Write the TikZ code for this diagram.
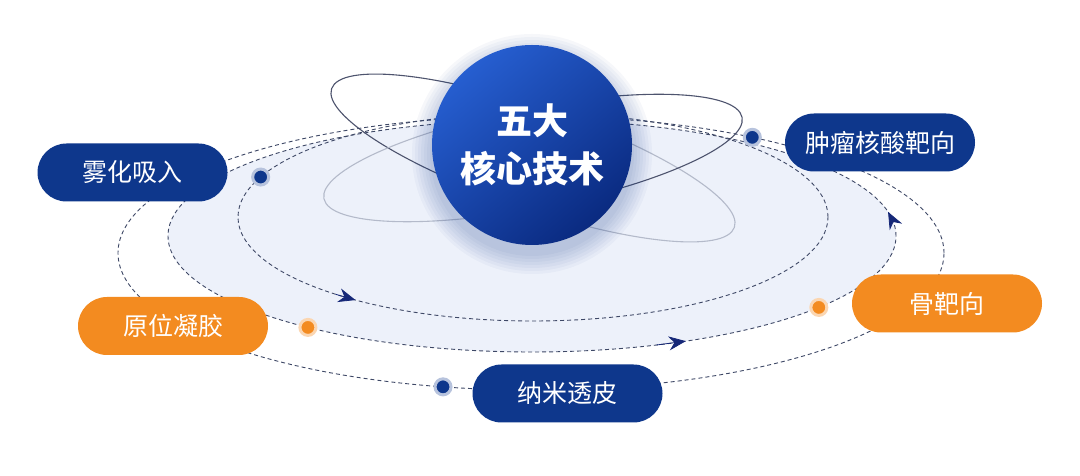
\documentclass[tikz,border=0pt]{standalone}
\usepackage{fontspec}
\newfontfamily\cjk{Noto Sans CJK SC}
\usetikzlibrary{calc,arrows.meta}
\definecolor{navy}{RGB}{14,55,140}
\definecolor{tangerine}{RGB}{243,139,32}
\definecolor{dashgray}{RGB}{62,72,102}
\definecolor{haze}{RGB}{237,241,250}
\definecolor{orbdark}{RGB}{78,84,110}
\definecolor{orblight}{RGB}{180,186,202}
\definecolor{ballhi}{RGB}{38,94,208}
\definecolor{balllo}{RGB}{10,42,128}
\definecolor{tipblue}{RGB}{22,40,120}
\tikzset{
  pill/.style={rectangle,rounded corners=29pt,minimum width=190pt,minimum height=58pt,
    inner sep=0pt,text=white,font=\cjk\fontsize{25}{30}\selectfont},
  bluepill/.style={pill,fill=navy},
  orangepill/.style={pill,fill=tangerine},
  ring/.style={dashgray,line width=0.9pt,dash pattern=on 4pt off 3pt},
  bluedot/.style={circle,fill=navy,draw=navy!30,line width=3pt,minimum size=16pt,inner sep=0pt},
  orangedot/.style={circle,fill=tangerine,draw=tangerine!35,line width=3pt,minimum size=16pt,inner sep=0pt},
  tipline/.style={tipblue,line width=0.8pt,-{Stealth[length=17pt,width=14pt]}},
}
\begin{document}
\begin{tikzpicture}[x=1pt,y=1pt]
\useasboundingbox (0,0) rectangle (1080,476);
\fill[white] (0,0) rectangle (1080,476);

% centres of the three dashed rings and of the orbits
\coordinate (outer) at (531,223);
\coordinate (middle) at (532,240);
\coordinate (inner) at (533,259);
\coordinate (orb) at (533,318);

\fill[haze] (middle) ellipse [x radius=364,y radius=116];

% thin orbits behind the ball
\begin{scope}[shift={(orb)},rotate=-19]
\draw[orbdark,line width=1.1pt] (90:213 and 50) arc[start angle=90,end angle=270,x radius=213,y radius=50];
\draw[orblight,line width=1.1pt] (270:213 and 50) arc[start angle=270,end angle=450,x radius=213,y radius=50];
\end{scope}
\begin{scope}[shift={(orb)},rotate=11]
\draw[orbdark,line width=1.1pt] (-90:213 and 50) arc[start angle=-90,end angle=90,x radius=213,y radius=50];
\draw[orblight,line width=1.1pt] (90:213 and 50) arc[start angle=90,end angle=270,x radius=213,y radius=50];
\end{scope}

\draw[ring] (outer) ellipse [x radius=413,y radius=137];
\draw[ring] (middle) ellipse [x radius=364,y radius=116];
\draw[ring] (inner) ellipse [x radius=295,y radius=104];

% arrow heads on the rings
\draw[tipline] ($(inner)+(228:295 and 104)$) -- ($(inner)+(233:295 and 104)$);
\draw[tipline] ($(middle)+(290:364 and 116)$) -- ($(middle)+(295:364 and 116)$);
\draw[tipline] ($(middle)+(7:364 and 116)$) -- ($(middle)+(12:364 and 116)$);

% glow under the ball
\foreach \r in {102,105,...,120}
\fill[navy,opacity=0.035] (532,322) circle (\r);

\node[circle,minimum size=200pt,inner sep=0pt,top color=ballhi,bottom color=balllo,shading angle=40,
  text=white,align=center,font=\cjk\bfseries\fontsize{36}{48}\selectfont] (core) at (532,331) {五大\\核心技术};

\node[bluepill] (wuhua) at (132.5,303.5) {雾化吸入};
\node[bluepill] (zhongliu) at (880,333.5) {肿瘤核酸靶向};
\node[orangepill] (yuanwei) at (173,150) {原位凝胶};
\node[orangepill] (gubaxiang) at (947,172.5) {骨靶向};
\node[bluepill] (nami) at (567.5,82.5) {纳米透皮};

\node[bluedot] (dot1) at ($(inner)+(157.4:295 and 104)$) {};
\node[bluedot] (dot2) at ($(outer)+(57.6:413 and 137)$) {};
\node[bluedot] (dot3) at ($(outer)+(257.7:413 and 137)$) {};
\node[orangedot] (dot4) at ($(middle)+(232:364 and 116)$) {};
\node[orangedot] (dot5) at ($(middle)+(322:364 and 116)$) {};
\end{tikzpicture}
\end{document}
